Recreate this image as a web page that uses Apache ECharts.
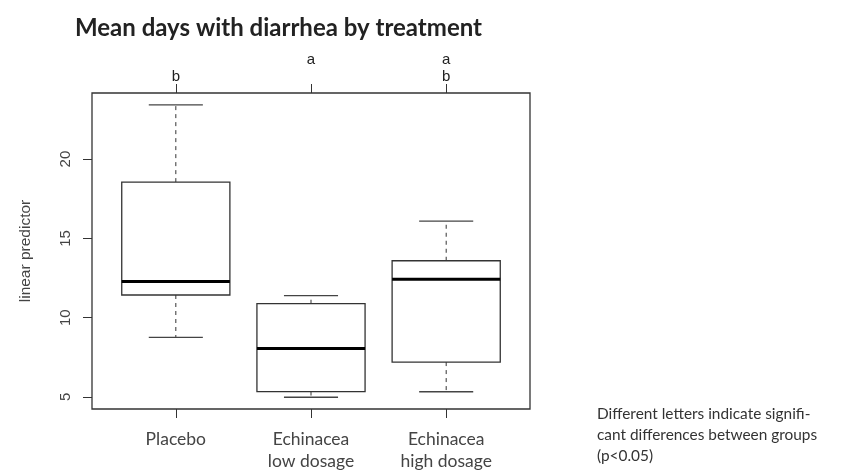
<!DOCTYPE html>
<html>
<head>
<meta charset="utf-8">
<script src="https://cdn.jsdelivr.net/npm/echarts@6/dist/echarts.min.js"></script>
<style>
  html, body { margin: 0; padding: 0; background: #fff; }
  #chart { width: 842px; height: 472px; }
</style>
</head>
<body>
<div id="chart"></div>
<script>
const groups = ['Placebo', 'Echinacea\nlow dosage', 'Echinacea\nhigh dosage'];
const letters = ['b', 'a\n ', 'a\nb'];
const positions = [1, 2, 3];
// box statistics per group
const whiskerLow = [8.76, 4.98, 5.33];
const q1 = [11.43, 5.34, 7.2];
const median = [12.28, 8.05, 12.43];
const q3 = [18.55, 10.88, 13.59];
const whiskerHigh = [23.42, 11.39, 16.09];
const yTicks = [5, 10, 15, 20];

const chart = echarts.init(document.getElementById('chart'));

const boxData = positions.map((p, i) => [p, whiskerLow[i], q1[i], median[i], q3[i], whiskerHigh[i]]);

function renderBox(params, api) {
  const x = api.value(0);
  const at = v => api.coord([x, v]);
  const half = api.size([0.4, 0])[0];
  const cap = api.size([0.2, 0])[0];
  const lo = at(api.value(1));
  const b1 = at(api.value(2));
  const md = at(api.value(3));
  const b3 = at(api.value(4));
  const hi = at(api.value(5));
  const cx = lo[0];
  const dashed = { stroke: '#333', lineWidth: 1, lineDash: [4, 4] };
  const solid = { stroke: '#444', lineWidth: 1.4 };
  return {
    type: 'group',
    children: [
      { type: 'line', shape: { x1: cx, y1: b3[1], x2: cx, y2: hi[1] }, style: dashed },
      { type: 'line', shape: { x1: cx, y1: b1[1], x2: cx, y2: lo[1] }, style: dashed },
      { type: 'line', shape: { x1: cx - cap, y1: hi[1], x2: cx + cap, y2: hi[1] }, style: solid },
      { type: 'line', shape: { x1: cx - cap, y1: lo[1], x2: cx + cap, y2: lo[1] }, style: solid },
      { type: 'rect', shape: { x: cx - half, y: b3[1], width: half * 2, height: b1[1] - b3[1] },
        style: { fill: '#fff', stroke: '#333', lineWidth: 1.3 } },
      { type: 'line', shape: { x1: cx - half, y1: md[1], x2: cx + half, y2: md[1] },
        style: { stroke: '#000', lineWidth: 3 } }
    ]
  };
}

const option = {
  backgroundColor: '#fff',
  animation: false,
  title: {
    text: 'Mean days with diarrhea by treatment',
    left: 70,
    top: 11,
    textStyle: { fontFamily: 'Lato', fontSize: 24, fontWeight: 'bold', color: '#222' }
  },
  grid: {
    left: 92, right: 312, top: 93, bottom: 63,
    show: true, borderColor: '#333', borderWidth: 1.3
  },
  xAxis: [
    {
      type: 'value', min: 0.38, max: 3.62, position: 'bottom',
      axisLine: { show: false },
      splitLine: { show: false },
      axisTick: { customValues: positions, length: 9, inside: false, lineStyle: { color: '#333' } },
      axisLabel: {
        customValues: positions, margin: 19, lineHeight: 22,
        fontFamily: 'Lato', fontSize: 17.5, color: '#444',
        formatter: v => groups[Math.round(v) - 1]
      }
    },
    {
      type: 'value', min: 0.38, max: 3.62, position: 'top',
      axisLine: { show: false },
      splitLine: { show: false },
      axisTick: { customValues: positions, length: 9, lineStyle: { color: '#333' } },
      axisLabel: {
        customValues: positions, margin: 8, lineHeight: 17,
        fontFamily: 'Liberation Sans', fontSize: 15, color: '#222',
        formatter: v => letters[Math.round(v) - 1]
      }
    }
  ],
  yAxis: {
    type: 'value', min: 4.24, max: 24.17,
    name: 'linear predictor', nameLocation: 'middle', nameGap: 58,
    nameTextStyle: { fontFamily: 'Liberation Sans', fontSize: 15.5, color: '#444' },
    axisLine: { show: false },
    splitLine: { show: false },
    axisTick: { customValues: yTicks, length: 9, lineStyle: { color: '#333' } },
    axisLabel: {
      customValues: yTicks, rotate: 90, margin: 19,
      fontFamily: 'Liberation Sans', fontSize: 15, color: '#444'
    }
  },
  graphic: [
    {
      type: 'text', left: 597, top: 404,
      style: {
        text: 'Different letters indicate signifi-\ncant differences between groups\n(p<0.05)',
        fontFamily: 'Lato', fontSize: 15.4, lineHeight: 21, fill: '#333'
      }
    }
  ],
  series: [
    {
      type: 'custom',
      renderItem: renderBox,
      xAxisIndex: 0,
      encode: { x: 0, y: [1, 2, 3, 4, 5] },
      data: boxData
    }
  ]
};

chart.setOption(option);
</script>
</body>
</html>
